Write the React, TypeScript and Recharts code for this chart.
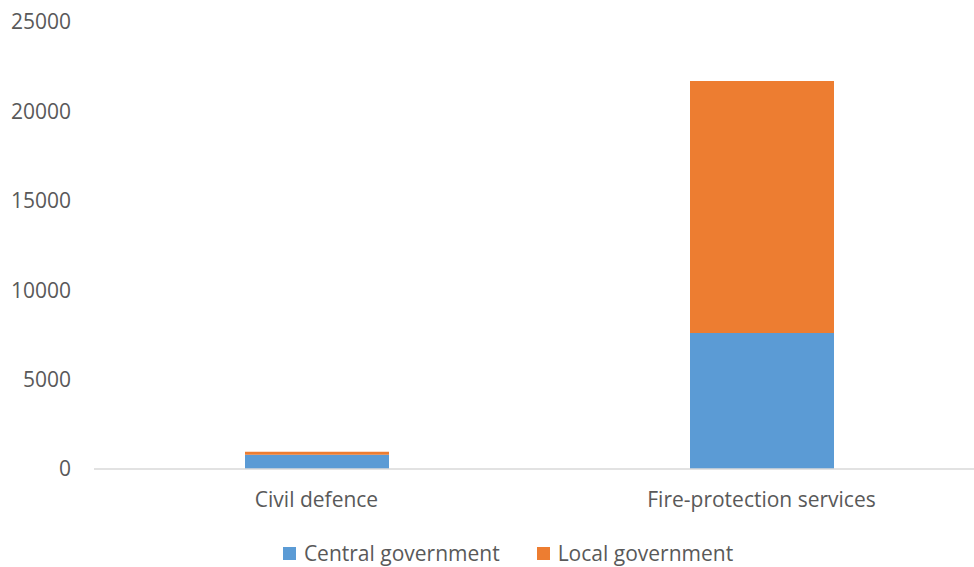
import React from "react"
import { Bar, BarChart, Legend, XAxis, YAxis } from "recharts"

const categories = ["Civil defence", "Fire-protection services"]
const centralGovernment = [800, 7600]
const localGovernment = [170, 14100]
const yTicks = [0, 5000, 10000, 15000, 20000, 25000]

const BLUE = "#5b9bd5"
const ORANGE = "#ed7d31"
const TEXT = "#595959"
const FONT = "'Open Sans', sans-serif"

const data = categories.map((name, i) => ({
  name,
  central: centralGovernment[i],
  local: localGovernment[i],
}))

function LegendContent() {
  const items = [
    { label: "Central government", color: BLUE },
    { label: "Local government", color: ORANGE },
  ]
  return (
    <div
      style={{
        display: "flex",
        justifyContent: "center",
        alignItems: "center",
        gap: 37,
        paddingTop: 12,
        fontFamily: FONT,
        fontSize: 21,
        color: TEXT,
        marginLeft: 32,
      }}
    >
      {items.map((it) => (
        <div key={it.label} style={{ display: "flex", alignItems: "center" }}>
          <span style={{ width: 13, height: 13, background: it.color, display: "inline-block", marginRight: 8 }} />
          <span>{it.label}</span>
        </div>
      ))}
    </div>
  )
}

export default function App() {
  return (
    <div style={{ position: "absolute", left: 0, top: 0, width: 974, height: 567, overflow: "hidden", background: "#fff" }}>
      <BarChart
        width={990}
        height={567}
        data={data}
        margin={{ top: 22, right: 6, left: 0, bottom: 0 }}
        barSize={144}
      >
        <XAxis
          dataKey="name"
          height={58}
          tickLine={false}
          tickSize={0}
          tickMargin={23}
          axisLine={{ stroke: "#d9d9d9", strokeWidth: 1.5 }}
          tick={{ fill: TEXT, fontSize: 21, fontFamily: FONT }}
        />
        <YAxis
          width={94}
          domain={[0, 25000]}
          ticks={yTicks}
          axisLine={false}
          tickLine={false}
          tickSize={0}
          tickMargin={23}
          tick={{ fill: TEXT, fontSize: 21, fontFamily: FONT }}
        />
        <Legend verticalAlign="bottom" height={40} content={<LegendContent />} />
        <Bar dataKey="central" name="Central government" stackId="a" fill={BLUE} isAnimationActive={false} />
        <Bar dataKey="local" name="Local government" stackId="a" fill={ORANGE} isAnimationActive={false} />
      </BarChart>
    </div>
  )
}
